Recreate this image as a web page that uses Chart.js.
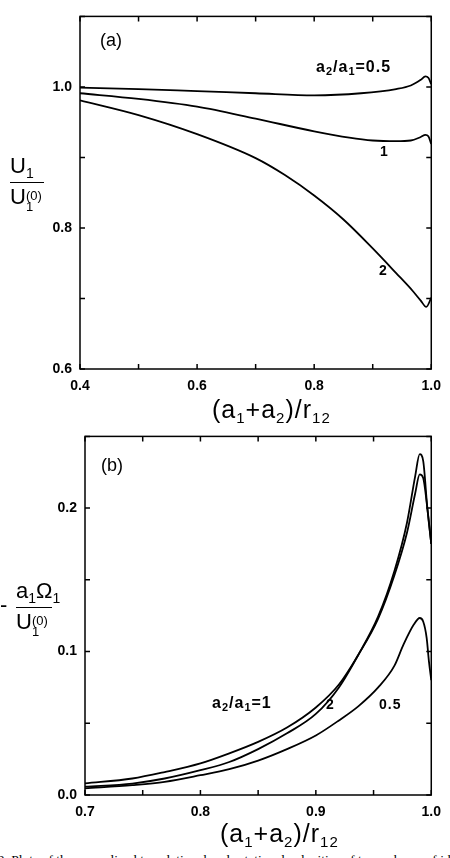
<!DOCTYPE html>
<html>
<head>
<meta charset="utf-8">
<script src="https://cdn.jsdelivr.net/npm/chart.js@4.4.1/dist/chart.umd.min.js"></script>
<style>
  html, body { margin: 0; padding: 0; background: #fff; }
  body { width: 450px; height: 858px; position: relative; overflow: hidden; font-family: "Liberation Sans", Arial, sans-serif; color: #000; }
  .box { position: absolute; left: 0; width: 450px; }
  .t { position: absolute; white-space: nowrap; line-height: 1; }
  .lbl { font-weight: bold; font-size: 16px; letter-spacing: 1px; }
  .lbl sub { font-size: 11px; vertical-align: -3px; }
  .ttl { font-size: 25px; letter-spacing: 1px; }
  .ttl sub { font-size: 15px; vertical-align: -5px; }
  .frac { position: absolute; font-size: 22px; line-height: 1; text-align: left; }
  .frac sub { font-size: 14px; vertical-align: -5px; }
  .frac .bar { border-top: 1.5px solid #000; margin: 2px 0 3px 0; }
  .stk { display: inline-block; font-size: 13px; line-height: 0.85; vertical-align: -7px; text-align: left; }
  .cap { position: absolute; left: -27px; top: 852px; font-family: "Liberation Serif", serif; font-size: 13.5px; white-space: nowrap; }
</style>
</head>
<body>
<div class="box" style="top:0;height:395px"><canvas id="chartA"></canvas></div>
<div class="box" style="top:420px;height:400px"><canvas id="chartB"></canvas></div>

<!-- panel (a) texts -->
<div class="t" style="left:100px;top:31px;font-size:18px">(a)</div>
<div class="t lbl" style="left:316px;top:59px">a<sub>2</sub>/a<sub>1</sub>=0.5</div>
<div class="t lbl" style="left:380px;top:144px;font-size:14px">1</div>
<div class="t lbl" style="left:379px;top:263px;font-size:14px">2</div>
<div class="frac" style="left:10px;top:155px">
  <div>U<sub>1</sub></div>
  <div class="bar" style="width:34px"></div>
  <div>U<span class="stk">(0)<br>1</span></div>
</div>
<div class="t ttl" style="left:212px;top:397px">(a<sub>1</sub>+a<sub>2</sub>)/r<sub>12</sub></div>

<!-- panel (b) texts -->
<div class="t" style="left:101px;top:456px;font-size:18px">(b)</div>
<div class="t lbl" style="left:212px;top:695px">a<sub>2</sub>/a<sub>1</sub>=1</div>
<div class="t lbl" style="left:326px;top:697px;font-size:14px">2</div>
<div class="t lbl" style="left:379px;top:697px;font-size:14px">0.5</div>
<div class="t" style="left:0px;top:594px;font-size:22px">-</div>
<div class="frac" style="left:16px;top:580px">
  <div>a<sub>1</sub>&Omega;<sub>1</sub></div>
  <div class="bar" style="width:36px"></div>
  <div>U<span class="stk">(0)<br>1</span></div>
</div>
<div class="t ttl" style="left:220px;top:821px">(a<sub>1</sub>+a<sub>2</sub>)/r<sub>12</sub></div>

<div class="cap">Fig. 2. Plots of the normalized translational and rotational velocities of two spheres of identical density</div>

<script>
// panel (a): U1/U1(0) vs (a1+a2)/r12
const aX05 = [0.40, 0.50, 0.60, 0.70, 0.80, 0.88, 0.94, 0.965, 0.982, 0.990, 0.995, 1.0];
const aY05 = [0.999, 0.997, 0.994, 0.991, 0.988, 0.991, 0.997, 1.002, 1.010, 1.015, 1.013, 1.004];
const aX1 = [0.40, 0.50, 0.60, 0.70, 0.80, 0.86, 0.90, 0.94, 0.965, 0.982, 0.990, 0.995, 1.0];
const aY1 = [0.991, 0.983, 0.972, 0.955, 0.937, 0.928, 0.924, 0.923, 0.924, 0.929, 0.932, 0.930, 0.919];
const aX2 = [0.40, 0.50, 0.60, 0.70, 0.75, 0.80, 0.85, 0.90, 0.94, 0.968, 0.982, 0.9915, 1.0];
const aY2 = [0.981, 0.960, 0.933, 0.899, 0.875, 0.846, 0.812, 0.771, 0.736, 0.711, 0.697, 0.688, 0.701];

// panel (b): -a1*Omega1/U1(0) vs (a1+a2)/r12
const bX = [0.70, 0.741, 0.769, 0.80, 0.825, 0.85, 0.875, 0.90, 0.92, 0.937, 0.954, 0.968, 0.979, 0.986, 0.990, 0.993, 0.9966, 1.0];
const bY1 = [0.0081, 0.0115, 0.016, 0.022, 0.029, 0.037, 0.047, 0.061, 0.077, 0.098, 0.123, 0.153, 0.183, 0.210, 0.2235, 0.221, 0.200, 0.175];
const bY2 = [0.0058, 0.008, 0.0115, 0.0173, 0.023, 0.032, 0.043, 0.0565, 0.075, 0.098, 0.1245, 0.156, 0.190, 0.222, 0.2376, 0.233, 0.200, 0.175];
const bX05 = [0.70, 0.741, 0.769, 0.80, 0.825, 0.85, 0.875, 0.90, 0.92, 0.937, 0.954, 0.968, 0.976, 0.985, 0.990, 0.993, 0.996, 0.998, 1.0];
const bY05 = [0.0046, 0.0069, 0.0092, 0.0138, 0.018, 0.024, 0.032, 0.0415, 0.052, 0.062, 0.075, 0.090, 0.105, 0.119, 0.1234, 0.121, 0.1096, 0.093, 0.080];

// tick labels shown (other ticks are unlabeled)
const aXLabels = [0.4, 0.6, 0.8, 1.0];
const aYLabels = [0.6, 0.8, 1.0];
const bXLabels = [0.7, 0.8, 0.9, 1.0];
const bYLabels = [0.0, 0.1, 0.2];

const pts = (xs, ys) => xs.map((x, i) => ({ x: x, y: ys[i] }));
const only = (list) => (v) => list.some(l => Math.abs(l - v) < 1e-6) ? Number(v).toFixed(1) : '';

const line = (data) => ({
    data: data,
    borderColor: '#000',
    borderWidth: 1.8,
    pointRadius: 0,
    fill: false,
    cubicInterpolationMode: 'monotone'
});

// frame plus inward ticks on all four sides
const frameTicks = {
    id: 'frameTicks',
    afterDraw(chart) {
        const ctx = chart.ctx;
        const { left, right, top, bottom } = chart.chartArea;
        const len = 5;
        ctx.save();
        ctx.strokeStyle = '#000';
        ctx.lineWidth = 1.5;
        ctx.strokeRect(left, top, right - left, bottom - top);
        ctx.beginPath();
        chart.scales.x.ticks.forEach(t => {
            const px = chart.scales.x.getPixelForValue(t.value);
            ctx.moveTo(px, bottom); ctx.lineTo(px, bottom - len);
            ctx.moveTo(px, top); ctx.lineTo(px, top + len);
        });
        chart.scales.y.ticks.forEach(t => {
            const py = chart.scales.y.getPixelForValue(t.value);
            ctx.moveTo(left, py); ctx.lineTo(left + len, py);
            ctx.moveTo(right, py); ctx.lineTo(right - len, py);
        });
        ctx.stroke();
        ctx.restore();
    }
};

const tickFont = { family: '"Liberation Sans", Arial, sans-serif', size: 14, weight: 'bold' };

function makeChart(id, datasets, xr, yr, pad) {
    return new Chart(document.getElementById(id).getContext('2d'), {
        type: 'line',
        data: { datasets: datasets },
        options: {
            responsive: true,
            maintainAspectRatio: false,
            animation: false,
            layout: { padding: { top: pad.top, right: pad.right, left: 0, bottom: 0 } },
            plugins: { legend: { display: false }, tooltip: { enabled: false } },
            scales: {
                x: {
                    type: 'linear', min: xr.min, max: xr.max,
                    grid: { display: false, drawTicks: false }, border: { display: false },
                    ticks: { stepSize: xr.step, autoSkip: false, maxRotation: 0, color: '#000', font: tickFont, padding: 9, callback: only(xr.labels) },
                    afterFit: (s) => { s.height = pad.xh; }
                },
                y: {
                    type: 'linear', min: yr.min, max: yr.max,
                    grid: { display: false, drawTicks: false }, border: { display: false },
                    ticks: { stepSize: yr.step, autoSkip: false, color: '#000', font: tickFont, padding: 8, callback: only(yr.labels) },
                    afterFit: (s) => { s.width = pad.yw; }
                }
            }
        },
        plugins: [frameTicks]
    });
}

makeChart('chartA',
    [line(pts(aX05, aY05)), line(pts(aX1, aY1)), line(pts(aX2, aY2))],
    { min: 0.4, max: 1.0, step: 0.1, labels: aXLabels },
    { min: 0.6, max: 1.1, step: 0.1, labels: aYLabels },
    { top: 8, right: 16, xh: 26, yw: 80 });

makeChart('chartB',
    [line(pts(bX, bY1)), line(pts(bX, bY2)), line(pts(bX05, bY05))],
    { min: 0.7, max: 1.0, step: 0.05, labels: bXLabels },
    { min: 0.0, max: 0.25, step: 0.05, labels: bYLabels },
    { top: 14, right: 8, xh: 25, yw: 85 });
</script>
</body>
</html>
